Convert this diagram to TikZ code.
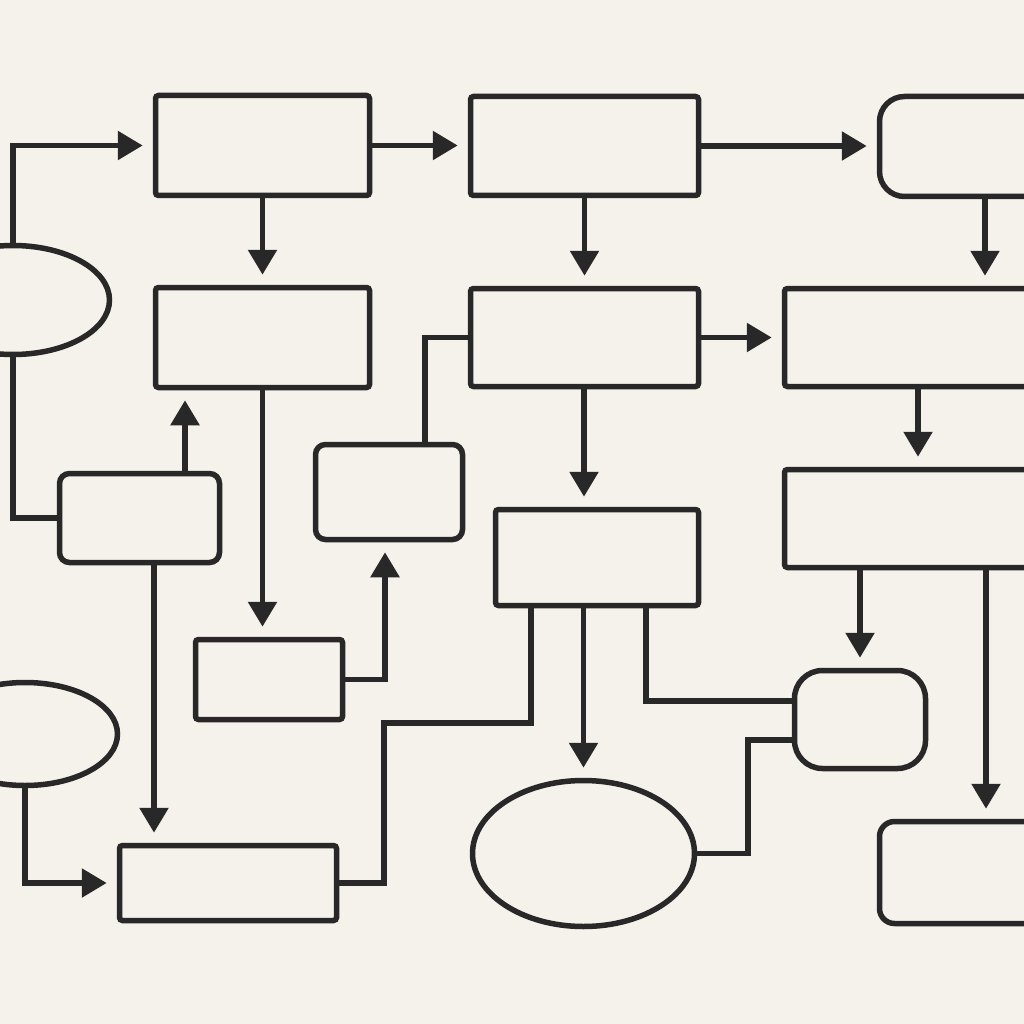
\documentclass[tikz,border=0pt]{standalone}
\usepackage{tikz}
\usetikzlibrary{shapes.geometric, arrows.meta}
\definecolor{paper}{RGB}{245,242,236}
\definecolor{ink}{RGB}{40,40,40}
\tikzstyle{process} = [rectangle, rounded corners=3pt, draw=ink, line width=5.5pt, fill=paper, inner sep=0pt]
\tikzstyle{subproc} = [process, rounded corners=10pt]
\tikzstyle{terminal} = [process, rounded corners=28pt]
\tikzstyle{oval} = [ellipse, draw=ink, line width=5.5pt, fill=paper, inner sep=0pt]
\tikzstyle{arrow} = [draw=ink, line width=5.5pt, -{Triangle[length=25pt,width=28pt]}, shorten >=10pt]
\tikzstyle{line} = [draw=ink, line width=5.5pt]

\begin{document}
\begin{tikzpicture}[x=1pt, y=-1pt]
\useasboundingbox (0,0) rectangle (1024,1024);
\fill [paper] (0,0) rectangle (1024,1024);
\clip (0,0) rectangle (1024,1024);

% top row
\node (pro1) [process, minimum width=214pt, minimum height=100pt] at (262.5,145.5) {};
\node (pro2) [process, minimum width=228pt, minimum height=99pt] at (584.5,146) {};
\node (term1) [terminal, rounded corners=25pt, minimum width=241pt, minimum height=100pt] at (1000,146.5) {};
\node (start1) [oval, minimum width=193pt, minimum height=109pt] at (13,300) {};

% second row
\node (pro3) [process, minimum width=214pt, minimum height=100pt] at (262.5,337.5) {};
\node (pro4) [process, minimum width=228pt, minimum height=98pt] at (584.5,337.5) {};
\node (pro5) [process, minimum width=315pt, minimum height=98pt] at (942,337.5) {};

% middle
\node (sub1) [subproc, minimum width=160pt, minimum height=89pt] at (139.5,518) {};
\node (sub2) [subproc, minimum width=147pt, minimum height=95pt] at (389,492) {};
\node (pro6) [process, minimum width=203pt, minimum height=96pt] at (597,557.5) {};
\node (pro7) [process, minimum width=315pt, minimum height=98pt] at (942,518.5) {};
\node (sub3) [process, minimum width=147pt, minimum height=80pt] at (269,679.5) {};

% bottom
\node (start2) [oval, minimum width=185pt, minimum height=103pt] at (25,734) {};
\node (term2) [terminal, minimum width=131pt, minimum height=98pt] at (860,719.5) {};
\node (end1) [oval, minimum width=222pt, minimum height=146pt] at (583.5,853.5) {};
\node (pro8) [process, minimum width=217pt, minimum height=75pt] at (228,883) {};
\node (term3) [terminal, rounded corners=15pt, minimum width=241pt, minimum height=102pt] at (1000,872.5) {};

% columns and bends of the connectors
\coordinate (c1) at (185,0);
\coordinate (c2) at (154,0);
\coordinate (c3) at (425,0);
\coordinate (c4) at (385,0);
\coordinate (c5) at (584,0);
\coordinate (c6) at (985,0);
\coordinate (c7) at (918,0);
\coordinate (c9) at (986,0);
\coordinate (j1) at (531,723);
\coordinate (j2) at (384,723);
\coordinate (k1) at (646,701);
\coordinate (m1) at (748,740);

\draw [arrow] (start1.north) |- (pro1.west);
\draw [arrow] (pro1.east) -- (pro1.east -| pro2.west);
\draw [arrow] (pro2.east) -- (pro2.east -| term1.west);
\draw [arrow] (pro1.south) -- (pro3.north);
\draw [arrow] (pro2.south) -- (pro4.north);
\draw [arrow] (term1.south -| c6) -- (pro5.north -| c6);
\draw [line] (start1.south) |- (sub1.west);
\draw [arrow] (sub1.north -| c1) -- (pro3.south -| c1);
\draw [arrow] (pro3.south) -- (pro3.south |- sub3.north);
\draw [arrow] (sub1.south -| c2) -- (pro8.north -| c2);
\draw [line] (sub2.north -| c3) |- (pro4.west);
\draw [arrow] (sub3.east) -| (sub2.south -| c4);
\draw [arrow] (pro4.east) -- (pro4.east -| pro5.west);
\draw [arrow] (pro4.south -| c5) -- (pro6.north -| c5);
\draw [arrow] (pro5.south -| c7) -- (pro7.north -| c7);
\draw [arrow] (pro7.south -| term2.north) -- (term2.north);
\draw [arrow] (pro7.south -| c9) -- (term3.north -| c9);
\draw [arrow] (pro6.south -| end1.north) -- (end1.north);
\draw [line] (pro6.south -| j1) -- (j1) -- (j2) |- (pro8.east);
\draw [line] (pro6.south -| k1) |- (k1 -| term2.west);
\draw [line] (m1 -| term2.west) -- (m1) |- (end1.east);
\draw [arrow] (start2.south) |- (pro8.west);
\end{tikzpicture}
\end{document}
